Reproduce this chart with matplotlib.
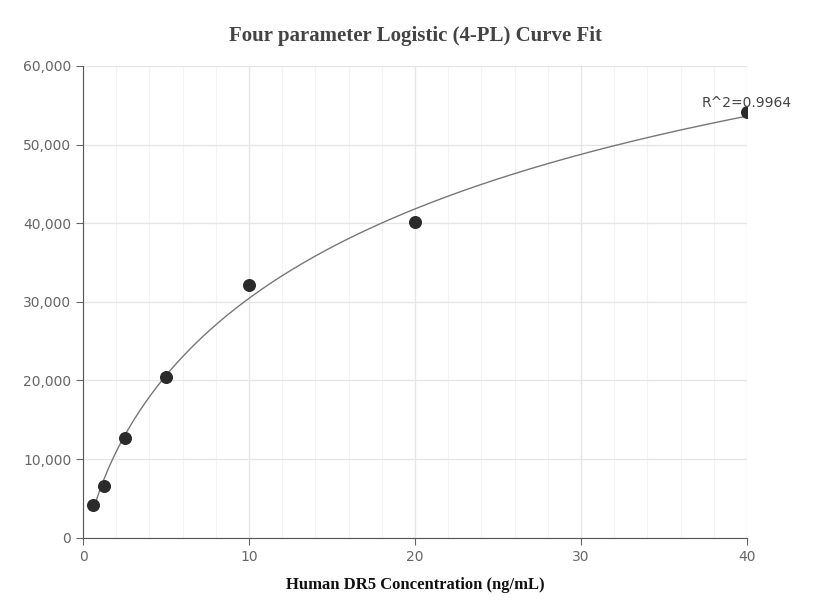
import matplotlib.pyplot as plt
import numpy as np
from matplotlib.ticker import FuncFormatter, MultipleLocator

# measured standards
conc = [0.625, 1.25, 2.5, 5, 10, 20, 40]
mfi = [4200, 6600, 12700, 20400, 32200, 40200, 54100]
r2_label = "R^2=0.9964"

x = np.array(conc)
y = np.array(mfi)


def four_pl(xv, a, b, c, d):
    return d + (a - d) / (1.0 + (xv / c) ** b)


# crude grid-search fit of the 4-PL model to the standards
best = None
for b in np.linspace(0.6, 1.6, 41):
    for c in np.linspace(3, 60, 115):
        basis = 1.0 / (1.0 + (x / c) ** b)
        M = np.column_stack([basis, 1 - basis])
        coef, *_ = np.linalg.lstsq(M, y, rcond=None)
        err = np.sum((M @ coef - y) ** 2)
        if best is None or err < best[0]:
            best = (err, coef[0], b, c, coef[1])
_, A, B, C, D = best

xs = np.linspace(conc[0], conc[-1], 300)

fig, ax = plt.subplots(figsize=(8.3, 6.16), dpi=100)
fig.subplots_adjust(left=0.1, right=0.9, top=0.893, bottom=0.127)

ax.plot(xs, four_pl(xs, A, B, C, D), color="#777777", lw=1)
ax.scatter(conc, mfi, s=70, color="#2b2b2b", zorder=3)
ax.annotate(r2_label, (conc[-1], mfi[-1]), xytext=(0, 2), textcoords="offset points",
            ha="center", va="bottom", fontsize=10, color="#444444", family="DejaVu Sans")

ax.set_xlim(0, 40)
ax.set_ylim(0, 60000)
ax.xaxis.set_major_locator(MultipleLocator(10))
ax.xaxis.set_minor_locator(MultipleLocator(2))
ax.yaxis.set_major_locator(MultipleLocator(10000))
ax.yaxis.set_major_formatter(FuncFormatter(lambda v, p: f"{int(v):,}"))
ax.grid(which="major", color="#e6e6e6", lw=1)
ax.grid(which="minor", axis="x", color="#f3f3f3", lw=0.8)
ax.set_axisbelow(True)
for s in ["top", "right"]:
    ax.spines[s].set_visible(False)
for s in ["left", "bottom"]:
    ax.spines[s].set_color("#555555")
ax.tick_params(which="both", colors="#666666", labelsize=10, length=5)
ax.tick_params(which="minor", length=0)

ax.set_title("Four parameter Logistic (4-PL) Curve Fit", family="Liberation Serif",
             fontweight="bold", fontsize=15, color="#444444", pad=18)
ax.set_xlabel("Human DR5 Concentration (ng/mL)", family="Liberation Serif",
              fontweight="bold", fontsize=12, color="#111111", labelpad=10)
ax.set_ylabel("Median Fluorescence Intensity (MFI)", family="Liberation Serif",
              fontweight="bold", fontsize=12, color="#111111", labelpad=16)

fig.savefig("out.png")
